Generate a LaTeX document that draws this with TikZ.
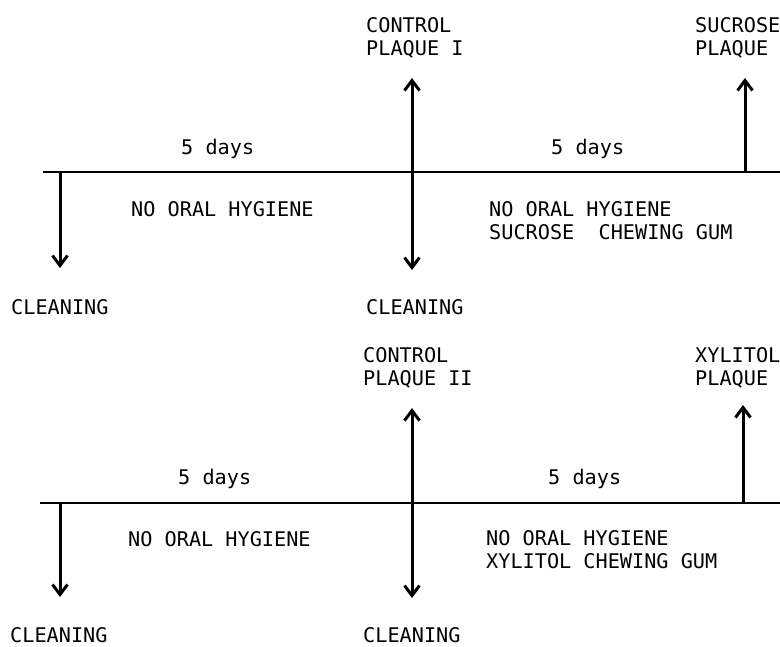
\documentclass[tikz,border=0pt]{standalone}
\usepackage{fontspec}
\setmonofont{DejaVu Sans Mono}
\usetikzlibrary{arrows.meta}

\begin{document}
\begin{tikzpicture}[
  x=1pt, y=-1pt,
  every node/.style={font=\ttfamily\fontsize{20.2}{23}\selectfont,
                     inner sep=0pt, anchor=base west, align=left},
  twoline/.style={anchor=north west},
  axis/.style={line width=2.5pt},
  arr/.style={-{Straight Barb[length=10pt, width=15pt]}, line width=3pt},
  darr/.style={{Straight Barb[length=10pt, width=15pt]}-{Straight Barb[length=10pt, width=15pt]},
               line width=3pt},
]
\useasboundingbox (0,0) rectangle (780,646);

% Sucrose period (upper time line)
\coordinate (ta) at (43,172);
\coordinate (tb) at (780,172);
\draw[axis] (ta) -- (tb);

\node[twoline] (ctla) at (366,17) {CONTROL\\PLAQUE I};
\node[twoline] (suc) at (695,17) {SUCROSE\\PLAQUE};
\node (daysa) at (181,154) {5 days};
\node (daysb) at (551,154) {5 days};
\node (noha) at (131,216) {NO ORAL HYGIENE};
\node[twoline] (nohb) at (489,201) {NO ORAL HYGIENE\\SUCROSE\ \ CHEWING GUM};
\node (clna) at (11,314) {CLEANING};
\node (clnb) at (366,314) {CLEANING};

\coordinate (ua1) at (60,172);   \coordinate (ua2) at (60,268);
\coordinate (ub1) at (412,78);   \coordinate (ub2) at (412,270);
\coordinate (uc1) at (745,172);  \coordinate (uc2) at (745,78);
\draw[arr] (ua1) -- (ua2);
\draw[darr] (ub1) -- (ub2);
\draw[arr] (uc1) -- (uc2);

% Xylitol period (lower time line)
\coordinate (tc) at (40,503);
\coordinate (td) at (780,503);
\draw[axis] (tc) -- (td);

\node[twoline] (ctlb) at (363,347) {CONTROL\\PLAQUE II};
\node[twoline] (xyl) at (695,347) {XYLITOL\\PLAQUE};
\node (daysc) at (178,484) {5 days};
\node (daysd) at (548,484) {5 days};
\node (nohc) at (128,546) {NO ORAL HYGIENE};
\node[twoline] (nohd) at (486,530) {NO ORAL HYGIENE\\XYLITOL CHEWING GUM};
\node (clnc) at (10,642) {CLEANING};
\node (clnd) at (363,642) {CLEANING};

\coordinate (la1) at (60,503);   \coordinate (la2) at (60,597);
\coordinate (lb1) at (412,408);  \coordinate (lb2) at (412,598);
\coordinate (lc1) at (743,503);  \coordinate (lc2) at (743,405);
\draw[arr] (la1) -- (la2);
\draw[darr] (lb1) -- (lb2);
\draw[arr] (lc1) -- (lc2);

\end{tikzpicture}
\end{document}
